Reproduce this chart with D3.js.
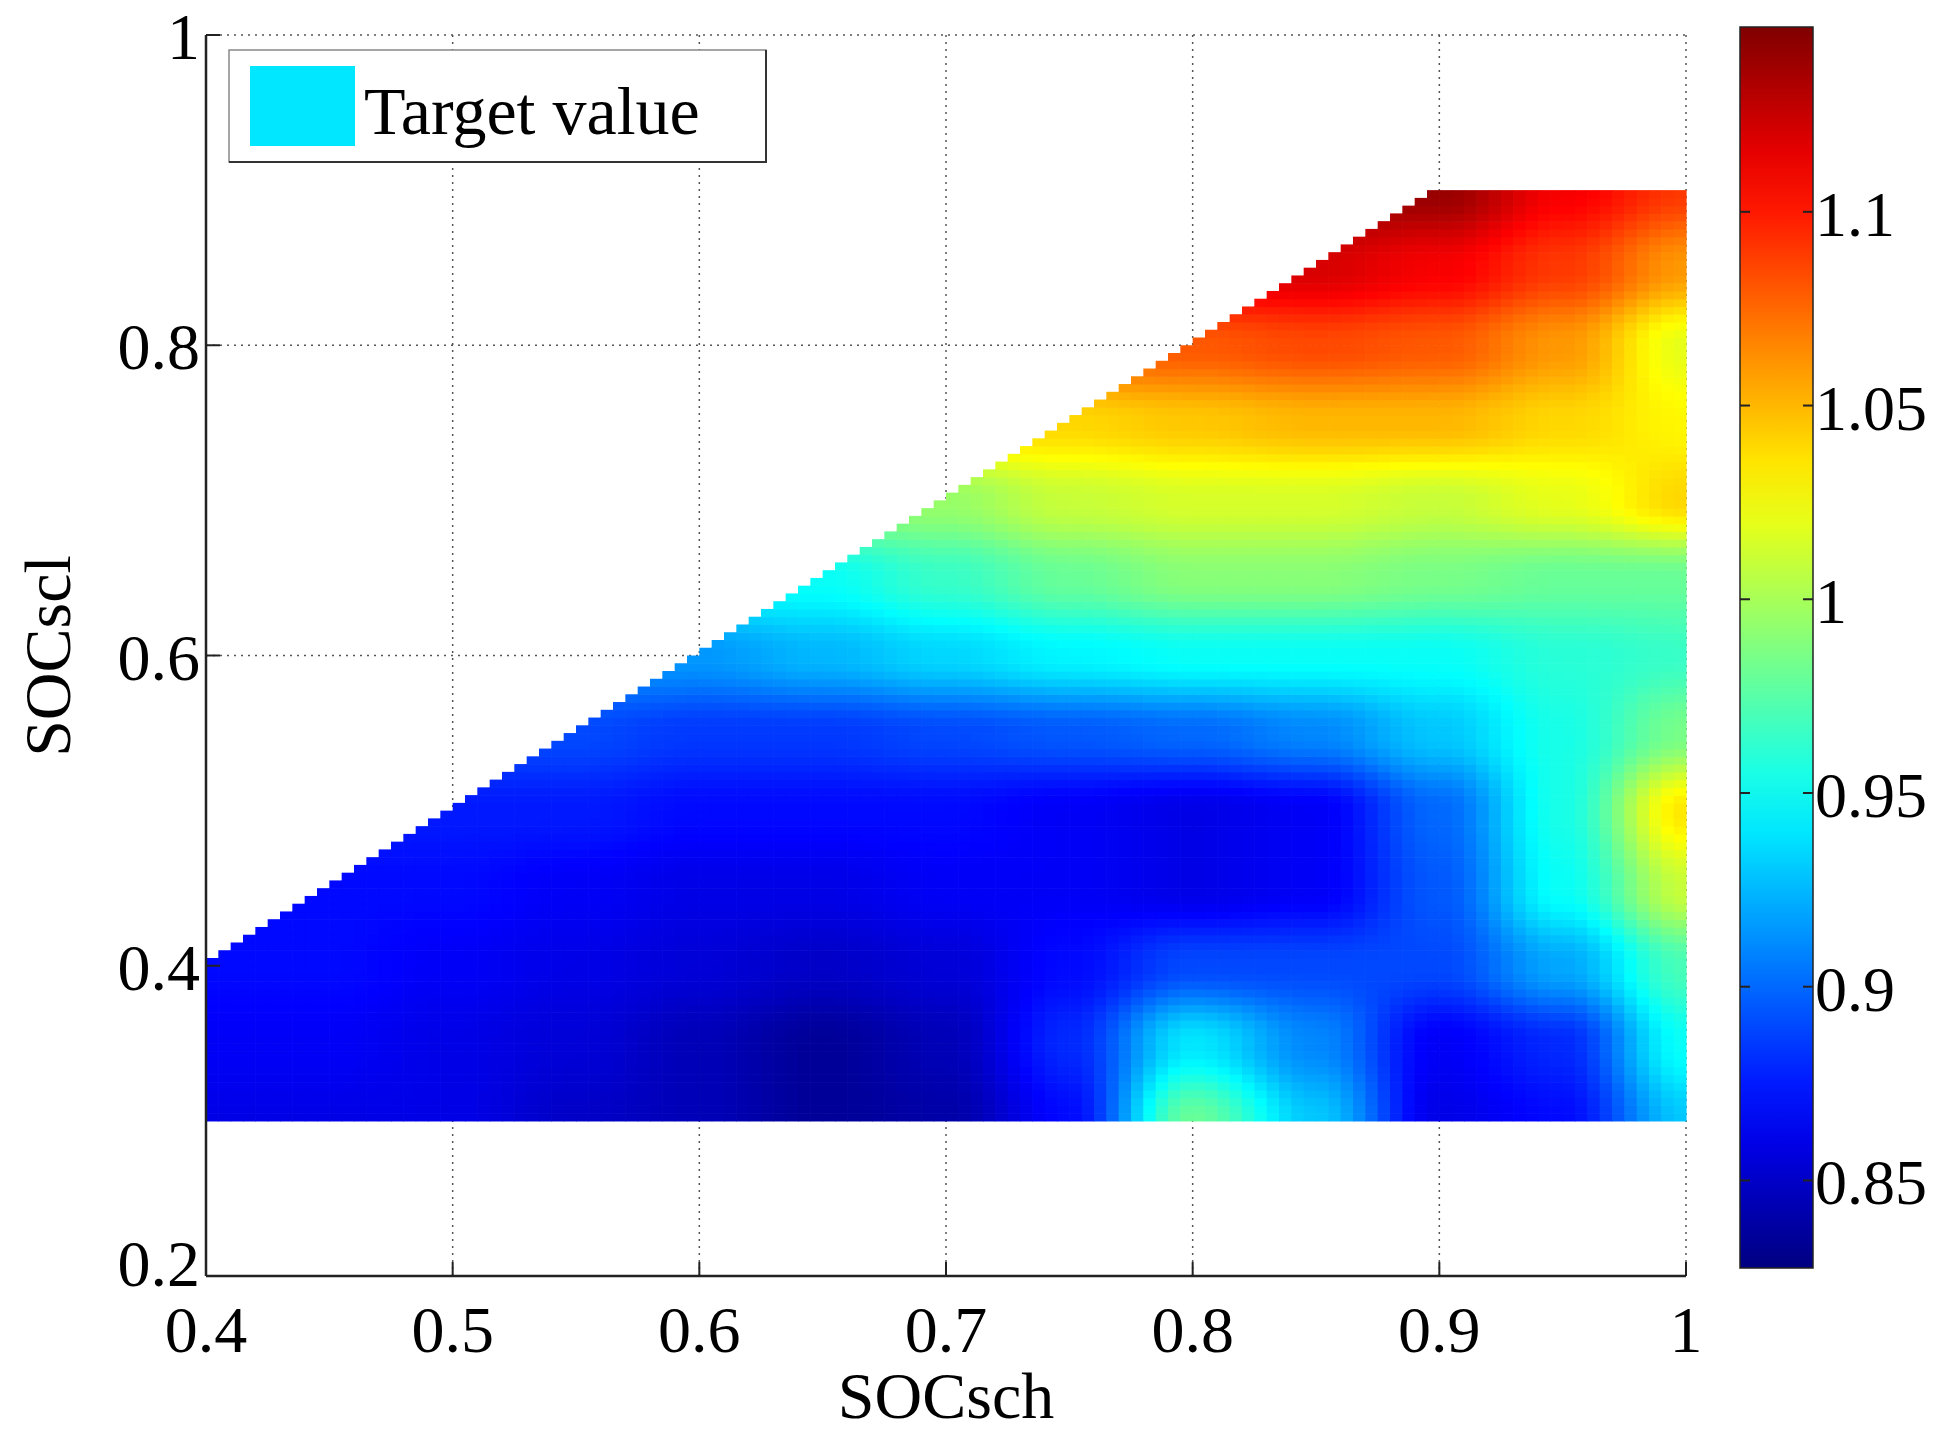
<!DOCTYPE html>
<html><head><meta charset="utf-8">
<script src="https://cdn.jsdelivr.net/npm/d3@7"></script>
<style>body{margin:0;background:#fff}</style>
</head><body>
<svg id="chart" width="1958" height="1442"></svg>
<script>
// grid of values, step 0.05
const xs = [0.4,0.45,0.5,0.55,0.6,0.65,0.7,0.75,0.8,0.85,0.9,0.95,1.0];
const ys = [0.3,0.35,0.4,0.45,0.5,0.55,0.6,0.65,0.7,0.75,0.8,0.85,0.9];
const N = null;
const z = [
  [0.86,0.86,0.86,0.85,0.845,0.835,0.84,0.87,0.98,0.93,0.86,0.87,0.93],
  [0.865,0.865,0.86,0.855,0.845,0.835,0.845,0.88,0.94,0.91,0.865,0.88,0.95],
  [0.87,0.87,0.865,0.86,0.855,0.85,0.855,0.87,0.89,0.89,0.89,0.92,0.97],
  [N,0.87,0.87,0.865,0.86,0.86,0.865,0.865,0.86,0.865,0.895,0.95,1.01],
  [N,N,0.875,0.875,0.87,0.87,0.87,0.865,0.86,0.865,0.9,0.955,1.035],
  [N,N,N,0.89,0.885,0.885,0.89,0.895,0.9,0.91,0.93,0.955,0.985],
  [N,N,N,N,0.915,0.925,0.935,0.945,0.95,0.95,0.95,0.96,0.965],
  [N,N,N,N,N,0.95,0.965,0.98,0.99,0.99,0.985,0.98,0.98],
  [N,N,N,N,N,N,0.995,1.01,1.015,1.015,1.01,1.02,1.04],
  [N,N,N,N,N,N,N,1.04,1.045,1.05,1.05,1.04,1.03],
  [N,N,N,N,N,N,N,N,1.08,1.085,1.08,1.06,1.02],
  [N,N,N,N,N,N,N,N,N,1.12,1.11,1.09,1.06],
  [N,N,N,N,N,N,N,N,N,N,1.14,1.11,1.09]
];
const xTicks = [0.4,0.5,0.6,0.7,0.8,0.9,1];
const yTicks = [0.2,0.4,0.6,0.8,1];
const cTicks = [0.85,0.9,0.95,1,1.05,1.1];
const cMin = 0.8274, cMax = 1.1477;
const legendLabel = "Target value";

// pad undefined cells with nearest defined value in the row
const zf = z.map(r => r.map((v,i) => v !== null ? v : r.find(d => d !== null)));

const svg = d3.select("#chart");
const L = 206, R = 1686, T = 35, B = 1276;
const x = d3.scaleLinear().domain([0.4,1]).range([L,R]);
const y = d3.scaleLinear().domain([0.2,1]).range([B,T]);
const font = "'Liberation Serif','DejaVu Serif',serif";

const jet = t => {
  t = Math.max(0, Math.min(1, t));
  const f = c => Math.max(0, Math.min(1, 1.5 - Math.abs(4*t - c)));
  return d3.rgb(255*f(3), 255*f(2), 255*f(1)).formatHex();
};
const color = v => jet((v - cMin)/(cMax - cMin));

// grid lines (dotted)
const g = svg.append("g");
xTicks.forEach(t => g.append("line").attr("x1",x(t)).attr("x2",x(t)).attr("y1",T).attr("y2",B)
  .attr("stroke","#555").attr("stroke-width",1.5).attr("stroke-dasharray","2,5"));
yTicks.forEach(t => g.append("line").attr("x1",L).attr("x2",R).attr("y1",y(t)).attr("y2",y(t))
  .attr("stroke","#555").attr("stroke-width",1.5).attr("stroke-dasharray","2,5"));

// smooth (cosine-weighted) interpolation of the grid
const sm = s => (1 - Math.cos(Math.PI*s))/2;
function interp(px, py) {
  let i = Math.min(11, Math.max(0, Math.floor((px-0.4)/0.05)));
  let j = Math.min(11, Math.max(0, Math.floor((py-0.3)/0.05)));
  const u = sm((px - xs[i])/0.05), w = sm((py - ys[j])/0.05);
  const a = zf[j][i], b = zf[j][i+1], c = zf[j+1][i], d = zf[j+1][i+1];
  return a*(1-u)*(1-w) + b*u*(1-w) + c*(1-u)*w + d*u*w;
}
const step = 0.005;
const cells = [];
for (let i = 0; i < 120; i++) {
  const cx = 0.4 + i*step;
  for (let j = 0; j < 120; j++) {
    const cy = 0.3 + j*step;
    if (cy + step > Math.min(cx + step, 0.9) + 1e-9) continue;
    cells.push({x: cx, y: cy, v: interp(cx + step/2, cy + step/2)});
  }
}
svg.append("g").selectAll("rect").data(cells).join("rect")
  .attr("x", d => x(d.x)).attr("y", d => y(d.y + step))
  .attr("width", x(0.4+step)-x(0.4)+0.6).attr("height", y(0.2)-y(0.2+step)+0.6)
  .attr("fill", d => color(d.v));

// axes
const ax = svg.append("g").attr("font-family", font).attr("font-size", 66);
ax.append("line").attr("x1",L).attr("x2",R).attr("y1",B).attr("y2",B).attr("stroke","#222").attr("stroke-width",2.5);
ax.append("line").attr("x1",L).attr("x2",L).attr("y1",T).attr("y2",B).attr("stroke","#222").attr("stroke-width",2.5);
xTicks.forEach(t => {
  ax.append("line").attr("x1",x(t)).attr("x2",x(t)).attr("y1",B).attr("y2",B-14).attr("stroke","#222").attr("stroke-width",2);
  ax.append("text").attr("x",x(t)).attr("y",B+76).attr("text-anchor","middle").text(t);
});
yTicks.forEach(t => {
  ax.append("line").attr("x1",L).attr("x2",L+14).attr("y1",y(t)).attr("y2",y(t)).attr("stroke","#222").attr("stroke-width",2);
  ax.append("text").attr("x",L-6).attr("y",y(t)+ (t === 0.2 ? 10 : 24)).attr("text-anchor","end").text(t);
});
ax.append("text").attr("x",(L+R)/2).attr("y",1418).attr("text-anchor","middle").text("SOCsch");
ax.append("text").attr("transform","translate(70,656) rotate(-90)").attr("text-anchor","middle").text("SOCscl");

// legend
const lg = svg.append("g");
lg.append("rect").attr("x",229).attr("y",50).attr("width",537).attr("height",112).attr("fill","#fff").attr("stroke","#888").attr("stroke-width",1.5);
lg.append("path").attr("d","M229,162 H766 V50").attr("fill","none").attr("stroke","#333").attr("stroke-width",2);
lg.append("rect").attr("x",250).attr("y",66).attr("width",105).attr("height",80).attr("fill",color(0.94));
lg.append("text").attr("x",364).attr("y",134).attr("font-family",font).attr("font-size",68).text(legendLabel);

// colorbar
const cbX = 1740, cbW = 73, cbT = 27, cbB = 1268;
const cy = d3.scaleLinear().domain([cMin,cMax]).range([cbB,cbT]);
const defs = svg.append("defs");
const grad = defs.append("linearGradient").attr("id","jet").attr("x1",0).attr("x2",0).attr("y1",1).attr("y2",0);
d3.range(0,1.0001,0.05).forEach(t => grad.append("stop").attr("offset",t).attr("stop-color",jet(t)));
svg.append("rect").attr("x",cbX).attr("y",cbT).attr("width",cbW).attr("height",cbB-cbT)
  .attr("fill","url(#jet)").attr("stroke","#222").attr("stroke-width",1.5);
const cb = svg.append("g").attr("font-family",font).attr("font-size",64);
cTicks.forEach(t => {
  cb.append("line").attr("x1",cbX).attr("x2",cbX+10).attr("y1",cy(t)).attr("y2",cy(t)).attr("stroke","#222").attr("stroke-width",2);
  cb.append("line").attr("x1",cbX+cbW-10).attr("x2",cbX+cbW).attr("y1",cy(t)).attr("y2",cy(t)).attr("stroke","#222").attr("stroke-width",2);
  cb.append("text").attr("x",cbX+cbW+2).attr("y",cy(t)+24).text(t);
});
</script>
</body></html>
